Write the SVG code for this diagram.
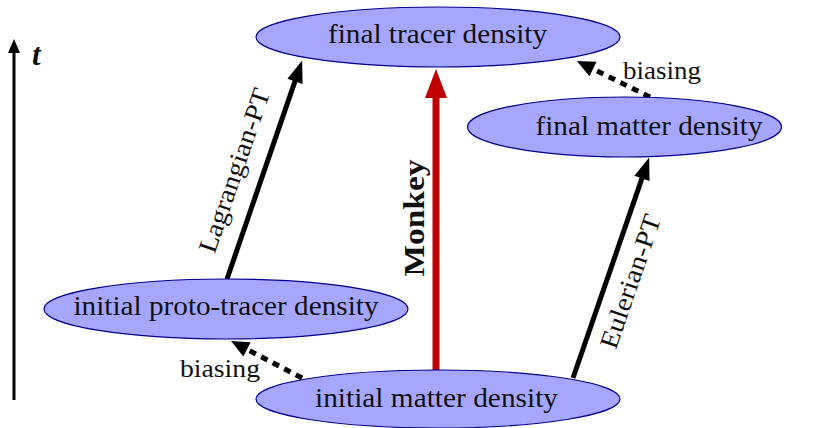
<svg xmlns="http://www.w3.org/2000/svg" width="820" height="428" viewBox="0 0 820 428">
<style>
.node ellipse{fill:#a6a6ff;stroke:#00008b;stroke-width:1.2}
text{font-family:'Liberation Serif','Times New Roman',serif;fill:#111}
.lbl{font-size:27px}
.elbl{font-size:26px}
.solid{stroke:#000;stroke-width:5;fill:none}
.dash{stroke:#000;stroke-width:5;fill:none;stroke-dasharray:7 6}
</style>
<defs>
<marker id="ah" markerUnits="userSpaceOnUse" markerWidth="24" markerHeight="18" viewBox="0 -9 24 18" refX="1" refY="0" orient="auto" overflow="visible">
<path d="M0,-8 L22,0 L0,8 z" fill="#000"/>
</marker>
<marker id="ahd" markerUnits="userSpaceOnUse" markerWidth="20" markerHeight="18" viewBox="0 -9 20 18" refX="0" refY="0" orient="auto" overflow="visible">
<path d="M0,-8 L18,0 L0,8 z" fill="#000"/>
</marker>
<marker id="ahr" markerUnits="userSpaceOnUse" markerWidth="30" markerHeight="24" viewBox="0 -12 30 24" refX="1" refY="0" orient="auto" overflow="visible">
<path d="M0,-11 L29,0 L0,11 z" fill="#c00000"/>
</marker>
<marker id="aht" markerUnits="userSpaceOnUse" markerWidth="16" markerHeight="14" viewBox="0 -7 16 14" refX="1" refY="0" orient="auto" overflow="visible">
<path d="M0,-6 L14,0 L0,6 z" fill="#000"/>
</marker>
</defs>

<g id="time-axis">
<line x1="14" y1="400" x2="14" y2="52" stroke="#000" stroke-width="3" marker-end="url(#aht)"/>
<text x="32" y="65" font-size="31" font-weight="bold" font-style="italic">t</text>
</g>

<g id="connectors">
<line class="solid" x1="227" y1="279" x2="295.3" y2="80.4" marker-end="url(#ah)"/>
<line class="solid" x1="573" y1="378" x2="642.3" y2="177.4" marker-end="url(#ah)"/>
<line x1="436" y1="370" x2="436" y2="97" stroke="#c00000" stroke-width="7" marker-end="url(#ahr)"/>
<line class="dash" x1="650" y1="97" x2="593" y2="69" marker-end="url(#ahd)"/>
<line class="dash" x1="302" y1="378" x2="247" y2="349.3" marker-end="url(#ahd)"/>
<text class="elbl" transform="translate(242.6,173.3) rotate(-71)" text-anchor="middle" textLength="172" lengthAdjust="spacingAndGlyphs">Lagrangian-PT</text>
<text class="elbl" transform="translate(638.6,284.3) rotate(-70.9)" text-anchor="middle" textLength="140" lengthAdjust="spacingAndGlyphs">Eulerian-PT</text>
<text transform="translate(424,218) rotate(-90)" text-anchor="middle" font-size="30" font-weight="bold" textLength="117" lengthAdjust="spacingAndGlyphs">Monkey</text>
<text class="elbl" x="623" y="79" textLength="78" lengthAdjust="spacingAndGlyphs">biasing</text>
<text class="elbl" x="180" y="377" textLength="80" lengthAdjust="spacingAndGlyphs">biasing</text>
</g>

<g id="final-tracer" class="node">
<ellipse cx="438" cy="37" rx="182" ry="30"/>
<text class="lbl" x="437.5" y="43" text-anchor="middle" textLength="219" lengthAdjust="spacingAndGlyphs">final tracer density</text>
</g>
<g id="final-matter" class="node">
<ellipse cx="624.5" cy="127" rx="157" ry="30"/>
<text class="lbl" x="649" y="135" text-anchor="middle" textLength="227" lengthAdjust="spacingAndGlyphs">final matter density</text>
</g>
<g id="initial-proto-tracer" class="node">
<ellipse cx="226" cy="309" rx="182" ry="30"/>
<text class="lbl" x="226" y="315" text-anchor="middle" textLength="305" lengthAdjust="spacingAndGlyphs">initial proto-tracer density</text>
</g>
<g id="initial-matter" class="node">
<ellipse cx="438" cy="399" rx="182" ry="29"/>
<text class="lbl" x="436.5" y="407" text-anchor="middle" textLength="243" lengthAdjust="spacingAndGlyphs">initial matter density</text>
</g>
</svg>
